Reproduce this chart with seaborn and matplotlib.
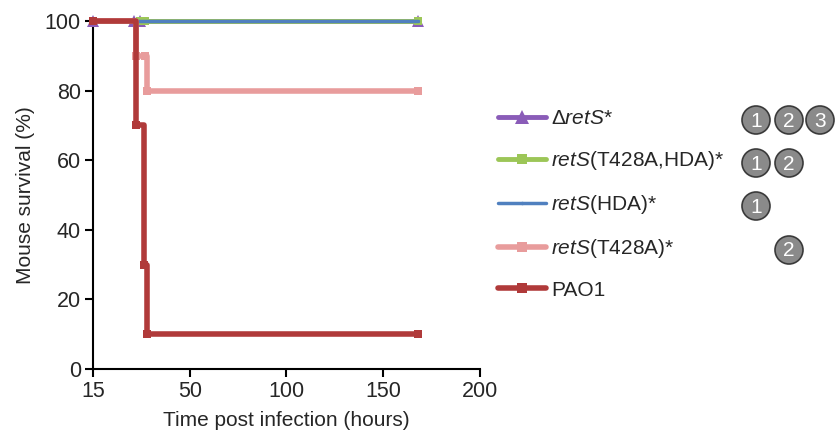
import matplotlib
matplotlib.use("Agg")
import matplotlib.pyplot as plt
from matplotlib.patches import Ellipse
import numpy as np
import pandas as pd
import seaborn as sns

# survival data (time in hours, survival in %)
labels = [r"$\Delta\it{retS}$*", r"$\it{retS}$(T428A,HDA)*", r"$\it{retS}$(HDA)*",
          r"$\it{retS}$(T428A)*", "PAO1"]
t_dretS = [0, 21, 24, 168]
s_dretS = [100, 100, 100, 100]
t_double = [0, 24, 27, 168]
s_double = [100, 100, 100, 100]
t_hda = [0, 24, 27, 168]
s_hda = [100, 100, 100, 100]
t_t428a = [0, 22, 27, 28, 168]
s_t428a = [100, 90, 90, 80, 80]
t_pao1 = [0, 22, 26, 28, 168]
s_pao1 = [100, 70, 30, 10, 10]
x_ticks = [0, 50, 100, 150, 200]
x_ticklabels = ["15", "50", "100", "150", "200"]
circle_groups = [[1, 2, 3], [1, 2], [1], [2], []]

colors = ["#8a5cb8", "#9cc657", "#5080bf", "#e89c9c", "#b03a3a"]
markers = ["^", "s", ".", "s", "s"]
msizes = [9, 6, 4, 6, 6]
widths = [3.5, 3.5, 2.5, 4, 4]

sns.set_style("ticks")
plt.rcParams["font.family"] = ["Liberation Sans", "DejaVu Sans"]
plt.rcParams["mathtext.fontset"] = "custom"
plt.rcParams["mathtext.rm"] = "Liberation Sans"
plt.rcParams["mathtext.it"] = "Liberation Sans:italic"

W, H = 836, 434
fig = plt.figure(figsize=(W / 100, H / 100), dpi=100)
ax = fig.add_axes([0.1116, 0.1498, 0.4622, 0.8018])

series = [(t_dretS, s_dretS), (t_double, s_double), (t_hda, s_hda),
          (t_t428a, s_t428a), (t_pao1, s_pao1)]
handles = []
for i, (t, s) in enumerate(series):
    df = pd.DataFrame({"time": t, "surv": s})
    sns.lineplot(data=df, x="time", y="surv", ax=ax, color=colors[i],
                 drawstyle="steps-post", marker=markers[i], markersize=msizes[i],
                 markeredgewidth=0, linewidth=widths[i], estimator=None,
                 sort=False, clip_on=False, zorder=3 + i)
    h, = ax.plot([], [], color=colors[i], marker=markers[i],
                 markersize=msizes[i] + 1, markeredgewidth=0, linewidth=widths[i])
    handles.append(h)

ax.set_xlim(0, 200)
ax.set_ylim(0, 100)
ax.set_xticks(x_ticks)
ax.set_xticklabels(x_ticklabels)
ax.set_yticks([0, 20, 40, 60, 80, 100])
ax.set_xlabel("Time post infection (hours)", fontsize=15, labelpad=6)
ax.set_ylabel("Mouse survival (%)", fontsize=15, labelpad=7)
ax.tick_params(labelsize=15.5, width=1.5, length=6, color="black", pad=3)
for sp in ["left", "bottom"]:
    ax.spines[sp].set_linewidth(1.5)
    ax.spines[sp].set_color("black")
sns.despine(ax=ax)

fig.legend(handles, labels, loc="upper left", bbox_to_anchor=(0.596, 0.748),
           frameon=False, fontsize=15, handlelength=2.3, labelspacing=1.0,
           handletextpad=0.25, borderaxespad=0, borderpad=0)

# circled group numbers
row_y = [120, 163, 206, 250, 293]
col_x = {1: 756, 2: 789, 3: 820}
for y, grp in zip(row_y, circle_groups):
    for n in grp:
        cx, cy = col_x[n] / W, 1 - y / H
        fig.patches.append(Ellipse((cx, cy), 28 / W, 28 / H, transform=fig.transFigure,
                                   fc="#8a8a8a", ec="#3a3a3a", lw=1.2))
        fig.text(cx, cy - 1 / H, str(n), color="white", fontsize=15,
                 ha="center", va="center")

fig.savefig("out.png", dpi=100)
